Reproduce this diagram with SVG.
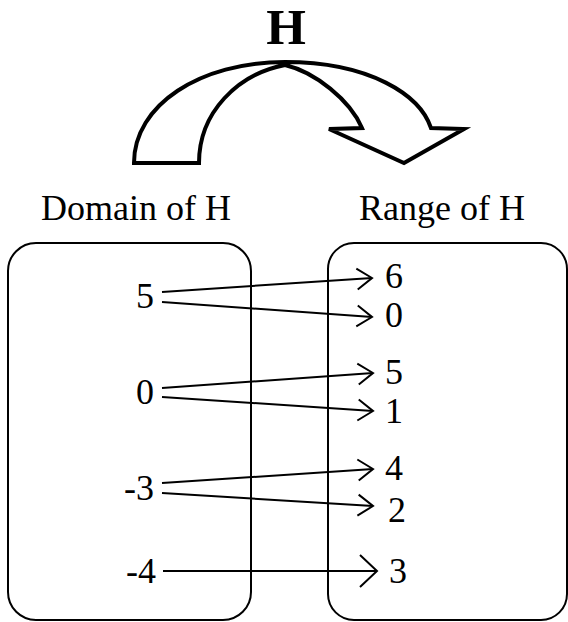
<svg xmlns="http://www.w3.org/2000/svg" width="568" height="622" viewBox="0 0 568 622">
<style>
.box{fill:none;stroke:#000;stroke-width:2}
.c{stroke:#000;stroke-width:2;fill:none}
.ah{fill:none;stroke:#000;stroke-width:2;stroke-linejoin:miter}
</style>
<defs>
<marker id="arr" markerUnits="userSpaceOnUse" markerWidth="24" markerHeight="28" refX="18" refY="12" viewBox="0 0 24 24" orient="auto" overflow="visible">
<path class="ah" d="M3,1.5 L18,12 L3,22.5"/>
</marker>
<marker id="arrL" markerUnits="userSpaceOnUse" markerWidth="24" markerHeight="36" refX="19" refY="17" viewBox="0 0 24 34" orient="auto" overflow="visible">
<path class="ah" d="M2,1 L19,17 L2,33"/>
</marker>
</defs>
<rect width="568" height="622" fill="#fff"/>
<g id="title" font-family="Liberation Serif, Times New Roman, serif" font-size="51" font-weight="bold" fill="#000">
<text x="286" y="44" text-anchor="middle">H</text>
</g>
<g id="mapArrow">
<path d="M134,163 C134,105 200,62 285,62 C370,62 420,95 431,128 L464,129 L404,163 L329,129 L362,128 C350,100 315,72 285,65 C238,74 199,112 199,163 Z" fill="#fff" stroke="#000" stroke-width="4" stroke-linejoin="miter"/>
</g>
<g id="domain" font-family="Liberation Serif, Times New Roman, serif" font-size="36" fill="#000">
<text x="41" y="220">Domain of H</text>
<rect class="box" x="8" y="243" width="243" height="377" rx="28"/>
<text x="154" y="308" text-anchor="end">5</text>
<text x="154" y="404" text-anchor="end">0</text>
<text x="154" y="500" text-anchor="end">-3</text>
<text x="156" y="583" text-anchor="end">-4</text>
</g>
<g id="range" font-family="Liberation Serif, Times New Roman, serif" font-size="36" fill="#000">
<text x="359" y="220">Range of H</text>
<rect class="box" x="328" y="243" width="239" height="377" rx="26"/>
<text x="385" y="288">6</text>
<text x="385" y="327">0</text>
<text x="385" y="384">5</text>
<text x="385" y="423">1</text>
<text x="385" y="480">4</text>
<text x="388" y="522">2</text>
<text x="389" y="583">3</text>
</g>
<g id="connectors">
<line class="c" x1="162" y1="292" x2="372" y2="278" marker-end="url(#arr)"/>
<line class="c" x1="162" y1="302" x2="372" y2="317" marker-end="url(#arr)"/>
<line class="c" x1="162" y1="388" x2="373" y2="373" marker-end="url(#arr)"/>
<line class="c" x1="162" y1="397" x2="373" y2="411" marker-end="url(#arr)"/>
<line class="c" x1="162" y1="483" x2="373" y2="469" marker-end="url(#arr)"/>
<line class="c" x1="162" y1="493" x2="373" y2="506" marker-end="url(#arr)"/>
<line class="c" x1="163" y1="571" x2="377" y2="571" marker-end="url(#arrL)"/>
</g>
</svg>
